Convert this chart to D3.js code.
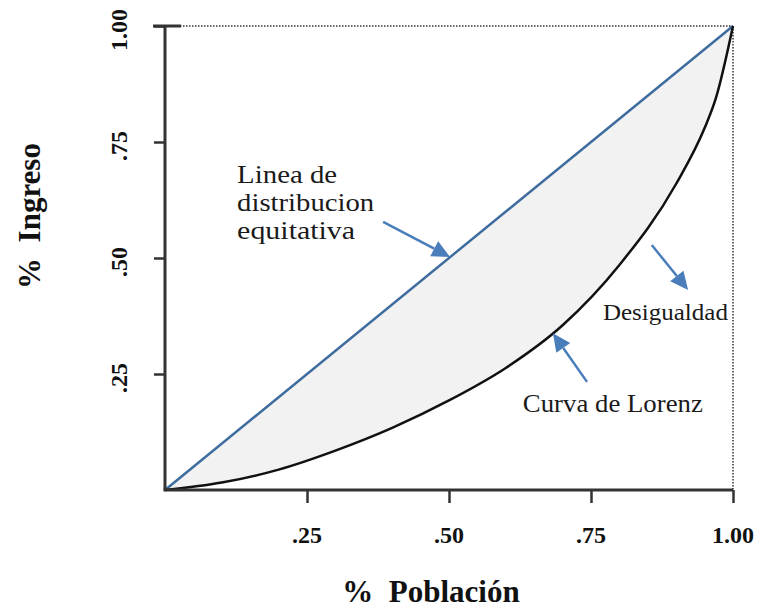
<!DOCTYPE html>
<html>
<head>
<meta charset="utf-8">
<script src="https://cdn.jsdelivr.net/npm/d3@7"></script>
<style>
  body { margin: 0; background: #fff; }
  svg { display: block; }
  text { font-family: "Liberation Serif", "Times New Roman", Times, serif; }
</style>
</head>
<body>
<svg id="chart" width="761" height="608"></svg>
<script>
// Lorenz curve points (share of population -> share of income)
const poblacion = [0, 0.1, 0.2, 0.3, 0.4, 0.5, 0.6, 0.7, 0.8, 0.9, 0.95, 0.97, 1.0];
const ingreso   = [0, 0.016, 0.044, 0.085, 0.134, 0.193, 0.263, 0.355, 0.485, 0.66, 0.78, 0.845, 1.0];
const igualdad  = [0, 1];
const tickValues = [0.25, 0.5, 0.75, 1.0];
const tickLabels = [".25", ".50", ".75", "1.00"];

const FONT = "Liberation Serif, Times New Roman, serif";
const svg = d3.select("#chart");
const margin = { top: 26, right: 28, bottom: 118, left: 165 };
const W = 761, H = 608;

const x = d3.scaleLinear().domain([0, 1]).range([margin.left, W - margin.right]);
const y = d3.scaleLinear().domain([0, 1]).range([H - margin.bottom, margin.top]);

const lorenz = poblacion.map((p, i) => ({ p, v: ingreso[i] }));
const equal = igualdad.map(p => ({ p, v: p }));
const smooth = d3.curveMonotoneX;

// shaded area between equality line and Lorenz curve
svg.append("path")
  .datum(lorenz)
  .attr("fill", "#f2f2f2")
  .attr("d", d3.area().x(d => x(d.p)).y0(d => y(d.v)).y1(d => y(d.p)).curve(smooth));

// frame: dotted top + right
svg.append("line")
  .attr("x1", x(0)).attr("x2", x(1)).attr("y1", y(1)).attr("y2", y(1))
  .attr("stroke", "#666").attr("stroke-width", 2).attr("stroke-dasharray", "1.5,1.5");
svg.append("line")
  .attr("x1", x(1)).attr("x2", x(1)).attr("y1", y(1)).attr("y2", y(0))
  .attr("stroke", "#666").attr("stroke-width", 2).attr("stroke-dasharray", "1.5,1.5");

// equality line
svg.append("path")
  .datum(equal)
  .attr("fill", "none")
  .attr("stroke", "#3f6c9f")
  .attr("stroke-width", 2.5)
  .attr("d", d3.line().x(d => x(d.p)).y(d => y(d.v)));

// Lorenz curve
svg.append("path")
  .datum(lorenz)
  .attr("fill", "none")
  .attr("stroke", "#111")
  .attr("stroke-width", 2.5)
  .attr("d", d3.line().x(d => x(d.p)).y(d => y(d.v)).curve(smooth));

// axes (ticks only, domain drawn separately)
const xAxis = svg.append("g")
  .attr("transform", `translate(0,${y(0)})`)
  .call(d3.axisBottom(x).tickValues(tickValues).tickSize(13).tickFormat(""));
const yAxis = svg.append("g")
  .attr("transform", `translate(${x(0)},0)`)
  .call(d3.axisLeft(y).tickValues(tickValues).tickSize(11).tickFormat(""));
[xAxis, yAxis].forEach(g => {
  g.select(".domain").remove();
  g.selectAll(".tick line").attr("stroke", "#333").attr("stroke-width", 2.5);
});
svg.append("line").attr("x1", x(0) - 1.5).attr("x2", x(1)).attr("y1", y(0)).attr("y2", y(0))
  .attr("stroke", "#333").attr("stroke-width", 3);
svg.append("line").attr("x1", x(0)).attr("x2", x(0)).attr("y1", y(0)).attr("y2", y(1))
  .attr("stroke", "#333").attr("stroke-width", 3);
svg.append("line").attr("x1", x(0) - 12).attr("x2", x(0) + 16).attr("y1", y(1)).attr("y2", y(1))
  .attr("stroke", "#333").attr("stroke-width", 3);

// tick labels
svg.selectAll(".xlab")
  .data(tickValues)
  .join("text")
  .attr("class", "xlab")
  .attr("x", d => x(d))
  .attr("y", y(0) + 53)
  .attr("text-anchor", "middle")
  .attr("font-family", FONT)
  .attr("font-size", 24).attr("font-weight", "bold").attr("fill", "#111")
  .text((d, i) => tickLabels[i]);

svg.selectAll(".ylab")
  .data(tickValues)
  .join("text")
  .attr("class", "ylab")
  .attr("transform", d => `translate(${x(0) - 38},${y(d) + 4}) rotate(-90)`)
  .attr("text-anchor", "middle")
  .attr("font-family", FONT)
  .attr("font-size", 24).attr("font-weight", "bold").attr("fill", "#111")
  .text((d, i) => tickLabels[i]);

// axis titles
svg.append("text")
  .attr("x", 431).attr("y", 602)
  .attr("text-anchor", "middle")
  .attr("font-family", FONT)
  .attr("font-size", 31).attr("font-weight", "bold").attr("fill", "#111")
  .attr("xml:space", "preserve")
  .text("%  Población");
svg.append("text")
  .attr("transform", `translate(40,216) rotate(-90)`)
  .attr("text-anchor", "middle")
  .attr("font-family", FONT)
  .attr("font-size", 31).attr("font-weight", "bold").attr("fill", "#111")
  .attr("xml:space", "preserve")
  .text("%  Ingreso");

// annotation arrows (data units)
const arrows = [
  { x1: 0.384, y1: 0.578, x2: 0.502, y2: 0.502 },
  { x1: 0.857, y1: 0.528, x2: 0.921, y2: 0.431 },
  { x1: 0.743, y1: 0.233, x2: 0.683, y2: 0.338 }
];
const arrowColor = "#4a7ebb";
arrows.forEach(a => {
  const sx = x(a.x1), sy = y(a.y1), ex = x(a.x2), ey = y(a.y2);
  const ang = Math.atan2(ey - sy, ex - sx);
  const hl = 18, hw = 8.5;
  const bx = ex - hl * Math.cos(ang), by = ey - hl * Math.sin(ang);
  svg.append("line")
    .attr("x1", sx).attr("y1", sy).attr("x2", bx).attr("y2", by)
    .attr("stroke", arrowColor).attr("stroke-width", 2.5);
  const px = -Math.sin(ang), py = Math.cos(ang);
  svg.append("path")
    .attr("d", `M${ex},${ey}L${bx + px * hw},${by + py * hw}L${bx - px * hw},${by - py * hw}Z`)
    .attr("fill", arrowColor);
});

// annotation text
const notes = [
  { lines: ["Linea de", "distribucion", "equitativa"], px: 0.127, py: 0.662, size: 25, widths: [100, 137, 118] },
  { lines: ["Desigualdad"], px: 0.771, py: 0.366, size: 23, widths: [125] },
  { lines: ["Curva de Lorenz"], px: 0.63, py: 0.168, size: 25, widths: [180] }
];
notes.forEach(n => {
  n.lines.forEach((t, i) => {
    svg.append("text")
      .attr("x", x(n.px))
      .attr("y", y(n.py) + i * 28)
      .attr("font-family", FONT)
      .attr("font-size", n.size)
      .attr("fill", "#1a1a1a")
      .attr("textLength", n.widths[i])
      .attr("lengthAdjust", "spacingAndGlyphs")
      .text(t);
  });
});
</script>
</body>
</html>
